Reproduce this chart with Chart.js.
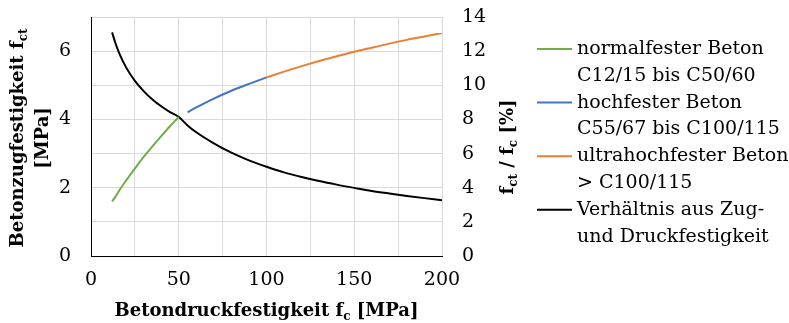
<!DOCTYPE html>
<html>
<head>
<meta charset="utf-8">
<script src="https://cdn.jsdelivr.net/npm/chart.js@4"></script>
<style>
  body{margin:0;background:#fff;}
  #wrap{width:789px;height:323px;position:relative;}
</style>
</head>
<body>
<div id="wrap"><canvas id="chart"></canvas></div>
<script>
// --- data ---
const fcNormal  = [12, 14, 16, 20, 25, 30, 35, 40, 45, 50];
const fctNormal = [1.60, 1.74, 1.91, 2.21, 2.56, 2.90, 3.21, 3.51, 3.80, 4.07];

const fcHigh  = [55, 60, 70, 80, 90, 100];
const fctHigh = [4.21, 4.35, 4.61, 4.84, 5.04, 5.23];

const fcUltra  = [100, 110, 120, 130, 140, 150, 160, 170, 180, 190, 200];
const fctUltra = [5.23, 5.40, 5.56, 5.71, 5.85, 5.98, 6.10, 6.22, 6.33, 6.43, 6.53];

const fcRatio  = [12, 14, 16, 20, 25, 30, 35, 40, 45, 50, 55, 60, 70, 80, 90, 100, 110, 120, 130, 140, 150, 160, 170, 180, 190, 200];
const ratioPct = [13.1, 12.45, 11.9, 11.05, 10.26, 9.66, 9.17, 8.77, 8.43, 8.14, 7.65, 7.25, 6.6, 6.05, 5.6, 5.23, 4.9, 4.63, 4.39, 4.18, 3.99, 3.81, 3.66, 3.52, 3.39, 3.27];

const legendLabels = [
  ['normalfester Beton', 'C12/15 bis C50/60'],
  ['hochfester Beton', 'C55/67 bis C100/115'],
  ['ultrahochfester Beton', '> C100/115'],
  ['Verhältnis aus Zug-', 'und Druckfestigkeit']
];
const colors = ['#70AD47', '#4472C4', '#ED7D31', '#000000'];

const pts = (xs, ys) => xs.map((x, i) => ({x, y: ys[i]}));
const FONT = '"DejaVu Serif", serif';

// --- text with subscripts, drawn onto the canvas ---
function richText(ctx, parts, x, y, size){
  const big = `bold ${size}px ${FONT}`, small = `bold ${Math.round(size*0.68)}px ${FONT}`;
  let w = 0;
  parts.forEach(p => { ctx.font = p.sub ? small : big; w += ctx.measureText(p.t).width; });
  let cx = x - w/2;
  ctx.textAlign = 'left';
  ctx.textBaseline = 'middle';
  parts.forEach(p => {
    ctx.font = p.sub ? small : big;
    ctx.fillText(p.t, cx, p.sub ? y + size*0.3 : y);
    cx += ctx.measureText(p.t).width;
  });
}

const extras = {
  id: 'extras',
  afterDraw(chart){
    const ctx = chart.ctx, a = chart.chartArea;
    ctx.save();
    ctx.fillStyle = '#000';
    // x title
    richText(ctx, [{t:'Betondruckfestigkeit f'}, {t:'c', sub:true}, {t:' [MPa]'}], (a.left + a.right)/2, 311, 18);
    // left title, two lines
    ctx.save();
    ctx.translate(18, 138); ctx.rotate(-Math.PI/2);
    richText(ctx, [{t:'Betonzugfestigkeit f'}, {t:'ct', sub:true}], 0, 0, 18);
    ctx.restore();
    ctx.save();
    ctx.translate(43, 138); ctx.rotate(-Math.PI/2);
    richText(ctx, [{t:'[MPa]'}], 0, 0, 18);
    ctx.restore();
    // right title
    ctx.save();
    ctx.translate(508, 147); ctx.rotate(-Math.PI/2);
    richText(ctx, [{t:'f'}, {t:'ct', sub:true}, {t:' / f'}, {t:'c', sub:true}, {t:' [%]'}], 0, 0, 18);
    ctx.restore();
    // legend
    let y = 49;
    legendLabels.forEach((lines, i) => {
      ctx.strokeStyle = colors[i];
      ctx.lineWidth = 2;
      ctx.beginPath(); ctx.moveTo(537, y); ctx.lineTo(572, y); ctx.stroke();
      ctx.font = `19px ${FONT}`;
      ctx.textAlign = 'left'; ctx.textBaseline = 'middle';
      lines.forEach((l, j) => ctx.fillText(l, 577, y + j*26.8));
      y += 2*26.8;
    });
    ctx.restore();
  }
};

const ds = (label, data, i, axis) => ({
  label, data, yAxisID: axis,
  borderColor: colors[i], backgroundColor: colors[i],
  borderWidth: 2, pointRadius: 0, cubicInterpolationMode: 'monotone', fill: false
});

// scales keep no extra padding for their end labels
const noPad = s => { s.paddingTop = 0; s.paddingBottom = 0; s.paddingLeft = 0; s.paddingRight = 0; };

new Chart(document.getElementById('chart'), {
  type: 'line',
  data: {
    datasets: [
      ds(legendLabels[0].join(' '), pts(fcNormal, fctNormal), 0, 'y'),
      ds(legendLabels[1].join(' '), pts(fcHigh, fctHigh), 1, 'y'),
      ds(legendLabels[2].join(' '), pts(fcUltra, fctUltra), 2, 'y'),
      ds(legendLabels[3].join(' '), pts(fcRatio, ratioPct), 3, 'y2')
    ]
  },
  options: {
    responsive: true,
    maintainAspectRatio: false,
    animation: false,
    layout: { padding: { top: 17, right: 287, bottom: 0, left: 0 } },
    plugins: { legend: { display: false }, tooltip: { enabled: false } },
    scales: {
      x: {
        type: 'linear', min: 0, max: 200,
        ticks: { stepSize: 25, padding: 13, color: '#000', font: { family: FONT, size: 19 },
                 callback: v => v % 50 === 0 ? v : '' , maxRotation: 0},
        grid: { color: '#d9d9d9', drawTicks: false },
        border: { color: '#000' },
        afterFit: s => { s.height = 67; noPad(s); }
      },
      y: {
        position: 'left', min: 0, max: 7,
        ticks: { stepSize: 1, padding: 20, color: '#000', font: { family: FONT, size: 19 },
                 callback: v => v % 2 === 0 ? v : '' },
        grid: { color: '#d9d9d9', drawTicks: false },
        border: { color: '#000' },
        afterFit: s => { s.width = 91; noPad(s); }
      },
      y2: {
        position: 'right', min: 0, max: 14,
        ticks: { stepSize: 2, padding: 20, color: '#000', font: { family: FONT, size: 19 } },
        grid: { display: false, drawTicks: false },
        border: { display: false },
        afterFit: s => { s.width = 60; noPad(s); }
      }
    }
  },
  plugins: [extras]
});
</script>
</body>
</html>
